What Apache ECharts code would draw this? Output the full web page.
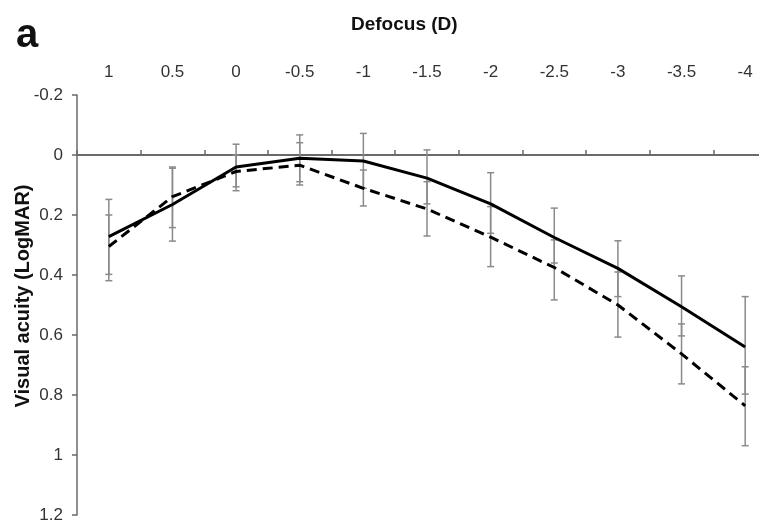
<!DOCTYPE html>
<html>
<head>
<meta charset="utf-8">
<script src="https://cdn.jsdelivr.net/npm/echarts@6/dist/echarts.min.js"></script>
<style>
  html, body { margin: 0; padding: 0; background: #fff; }
  #chart { width: 759px; height: 522px; }
</style>
</head>
<body>
<div id="chart"></div>
<script>
  // defocus levels (D)
  var categories = ['1', '0.5', '0', '-0.5', '-1', '-1.5', '-2', '-2.5', '-3', '-3.5', '-4']
  var yTicks = [-0.2, 0, 0.2, 0.4, 0.6, 0.8, 1, 1.2]

  // mean visual acuity (LogMAR)
  var solidVA = [0.272, 0.165, 0.04, 0.011, 0.02, 0.077, 0.163, 0.275, 0.378, 0.506, 0.64]
  var dashedVA = [0.305, 0.139, 0.055, 0.034, 0.111, 0.18, 0.274, 0.375, 0.5, 0.663, 0.836]

  // error bar ends
  var solidLow = [0.148, 0.044, -0.036, -0.067, -0.072, -0.017, 0.059, 0.177, 0.286, 0.403, 0.472]
  var solidHigh = [0.398, 0.287, 0.106, 0.089, 0.111, 0.163, 0.261, 0.36, 0.472, 0.603, 0.797]
  var dashedLow = [0.2, 0.04, 0, -0.041, 0.05, 0.089, 0.172, 0.283, 0.39, 0.563, 0.706]
  var dashedHigh = [0.419, 0.242, 0.119, 0.1, 0.17, 0.27, 0.372, 0.483, 0.607, 0.763, 0.969]

  var font = '"Liberation Sans", Arial, sans-serif'

  function errData(low, high) {
    return categories.map(function (c, i) { return [i, low[i], high[i]] })
  }

  function renderErr(params, api) {
    var x = api.value(0)
    var p1 = api.coord([x, api.value(1)])
    var p2 = api.coord([x, api.value(2)])
    var hw = 3.5
    var style = { stroke: '#8a8a8a', lineWidth: 1.5 }
    return {
      type: 'group',
      children: [
        { type: 'line', shape: { x1: p1[0], y1: p1[1], x2: p2[0], y2: p2[1] }, style: style },
        { type: 'line', shape: { x1: p1[0] - hw, y1: p1[1], x2: p1[0] + hw, y2: p1[1] }, style: style },
        { type: 'line', shape: { x1: p2[0] - hw, y1: p2[1], x2: p2[0] + hw, y2: p2[1] }, style: style }
      ]
    }
  }

  var chart = echarts.init(document.getElementById('chart'))
  chart.setOption({
    animation: false,
    textStyle: { fontFamily: font },
    title: [
      {
        text: 'a',
        left: 11,
        top: 11,
        textStyle: { fontSize: 40, fontWeight: 'bold', color: '#111', fontFamily: font }
      },
      {
        text: 'Defocus (D)',
        left: 346,
        top: 10,
        textStyle: { fontSize: 19, fontWeight: 'bold', color: '#111', fontFamily: font }
      }
    ],
    // y axis title, placed like the original (a bit above the axis middle)
    graphic: [
      {
        type: 'text',
        x: 23,
        y: 296,
        rotation: Math.PI / 2,
        style: {
          text: 'Visual acuity (LogMAR)',
          font: 'bold 20px ' + font,
          fill: '#111',
          align: 'center',
          verticalAlign: 'middle'
        }
      }
    ],
    grid: {
      left: 77,
      top: 95,
      width: 700,
      height: 420,
      containLabel: false,
      outerBoundsMode: 'none'
    },
    xAxis: {
      type: 'category',
      position: 'top',
      data: categories,
      boundaryGap: true,
      axisLine: {
        onZero: true,
        lineStyle: { color: '#6a6a6a', width: 2 }
      },
      axisTick: {
        show: true,
        length: 5,
        lineStyle: { color: '#6a6a6a', width: 1.5 }
      },
      axisLabel: {
        margin: 14,
        fontSize: 17,
        color: '#333',
        fontFamily: font
      },
      splitLine: { show: false }
    },
    yAxis: {
      type: 'value',
      inverse: true,
      min: yTicks[0],
      max: yTicks[yTicks.length - 1],
      interval: 0.2,
      axisLine: {
        show: true,
        onZero: false,
        lineStyle: { color: '#6a6a6a', width: 1.5 }
      },
      axisTick: {
        show: true,
        length: 5,
        lineStyle: { color: '#6a6a6a', width: 1.5 }
      },
      axisLabel: {
        margin: 14,
        fontSize: 17,
        color: '#333',
        fontFamily: font
      },
      splitLine: { show: false }
    },
    series: [
      {
        type: 'custom',
        renderItem: renderErr,
        data: errData(solidLow, solidHigh),
        encode: { x: 0, y: [1, 2] },
        z: 1,
        silent: true
      },
      {
        type: 'custom',
        renderItem: renderErr,
        data: errData(dashedLow, dashedHigh),
        encode: { x: 0, y: [1, 2] },
        z: 1,
        silent: true
      },
      {
        name: 'solid',
        type: 'line',
        data: solidVA,
        showSymbol: false,
        z: 3,
        lineStyle: { color: '#000', width: 3, type: 'solid' }
      },
      {
        name: 'dashed',
        type: 'line',
        data: dashedVA,
        showSymbol: false,
        z: 3,
        lineStyle: { color: '#000', width: 3, type: [10, 6] }
      }
    ]
  })
</script>
</body>
</html>
